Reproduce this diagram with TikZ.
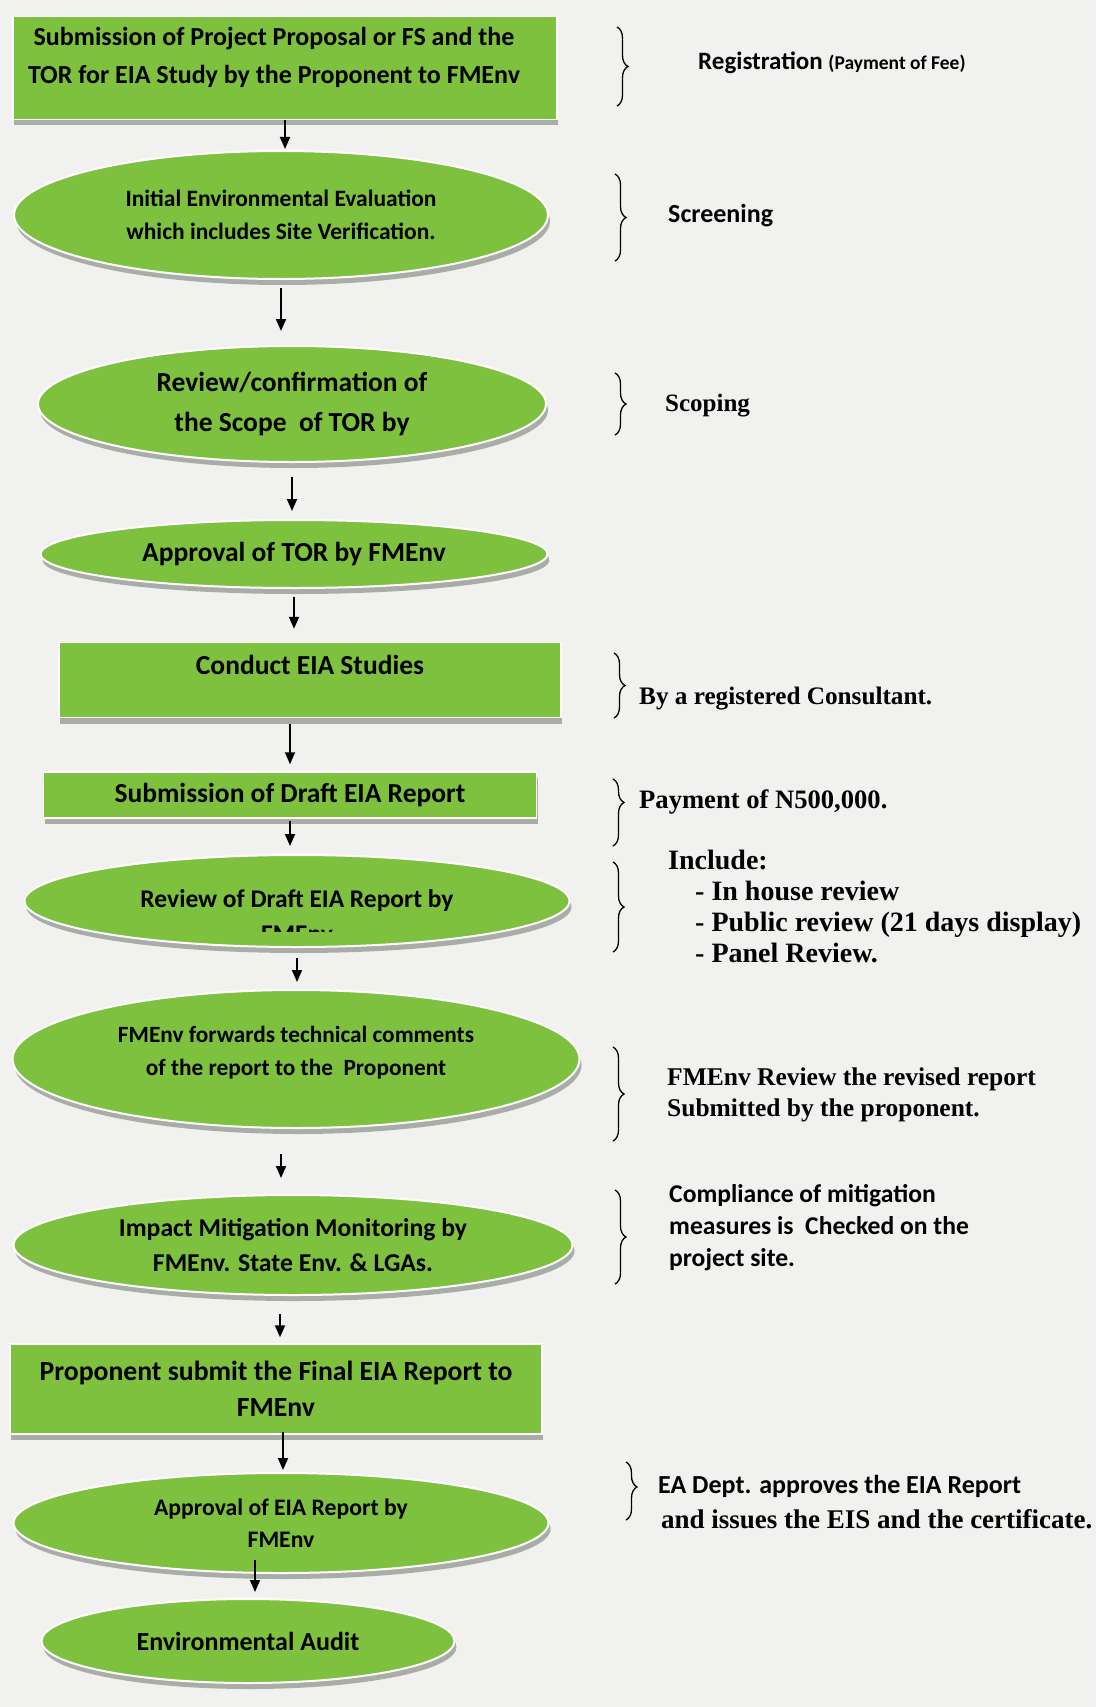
\documentclass[tikz,border=0pt]{standalone}
\usepackage{fontspec}
\setmainfont{Liberation Serif}
\newfontfamily\calib{Carlito}
\usetikzlibrary{shapes.geometric, arrows.meta, positioning, calc, shadows, decorations.pathreplacing}
\definecolor{cLeaf}{RGB}{126,193,62}
\definecolor{cPaper}{RGB}{241,242,239}
\definecolor{cShade}{RGB}{150,158,150}
\newcommand{\fsz}[2]{\calib\bfseries\fontsize{#1}{#2}\selectfont}
\newcommand{\tsz}[2]{\bfseries\fontsize{#1}{#2}\selectfont}
\tikzset{
	stage/.style    ={rectangle, draw=white, line width=1.5pt, fill=cLeaf, align=center, inner sep=0pt, drop shadow={shadow xshift=1pt, shadow yshift=-6pt, fill=cShade, opacity=.8}},
	phase/.style    ={ellipse, draw=white, line width=2pt, fill=cLeaf, align=center, inner sep=0pt, drop shadow={shadow xshift=2pt, shadow yshift=-6pt, fill=cShade, opacity=.8}},
	flowarrow/.style={-{Triangle[length=12pt, width=10pt]}, line width=1.8pt},
	curly/.style    ={decorate, decoration={brace, amplitude=11pt}, line width=1.3pt},
	note/.style     ={anchor=west, align=left, inner sep=0pt},
}

\begin{document}
\begin{tikzpicture}[x=1pt, y=-1pt]
	\fill[cPaper] (0,0) rectangle (1096,1707);
	\useasboundingbox (0,0) rectangle (1096,1707);

	\node[stage, minimum width=544pt, minimum height=103pt, text depth=25pt, font=\fsz{26}{38}] (submit) at (285,68) {Submission of Project Proposal or FS and the\hspace*{22pt}\\TOR for EIA Study by the Proponent to FMEnv\hspace*{22pt}};
	\node[phase, minimum width=534pt, minimum height=128pt, font=\fsz{23.5}{33}] (screen) at (281,215) {Initial Environmental Evaluation\\which includes Site Verification.};
	\node[phase, minimum width=508pt, minimum height=116pt, font=\fsz{27.5}{40}] (scope) at (292,404) {Review/confirmation of\\the Scope~ of TOR by};
	\node[phase, minimum width=507pt, minimum height=68pt, font=\fsz{27.5}{33}] (torok) at (294,554) {Approval of TOR by FMEnv};
	\node[stage, minimum width=502pt, minimum height=75pt, text depth=30pt, font=\fsz{27.5}{33}] (study) at (310,680) {Conduct EIA Studies};
	\node[stage, minimum width=493pt, minimum height=46pt, font=\fsz{27.5}{33}] (draft) at (290,795) {Submission of Draft EIA Report};
	\node[phase, minimum width=545pt, minimum height=92pt, font=\fsz{25.5}{35}] (review) at (297,901) {Review of Draft EIA Report by};
	\begin{scope}
		\clip (60,880) rectangle (540,931);
		\node[font=\fsz{25.5}{35}, inner sep=0pt] (reviewby) at (297,934) {FMEnv};
	\end{scope}
	\node[phase, minimum width=567pt, minimum height=138pt, text depth=17pt, font=\fsz{23.3}{33}] (comments) at (296,1059) {FMEnv forwards technical comments\\of the report to the~ Proponent};
	\node[phase, minimum width=559pt, minimum height=100pt, font=\fsz{25.7}{35}] (monitor) at (293,1245) {Impact Mitigation Monitoring by\\FMEnv. State Env. \& LGAs.};
	\node[stage, minimum width=532pt, minimum height=90pt, font=\fsz{27.7}{36}] (final) at (276,1389) {Proponent submit the Final EIA Report to\\FMEnv};
	\node[phase, minimum width=535pt, minimum height=100pt, font=\fsz{23.7}{32}] (approve) at (281,1523) {Approval of EIA Report by\\FMEnv};
	\node[phase, minimum width=413pt, minimum height=84pt, font=\fsz{26}{33}] (audit) at (248,1641) {Environmental Audit};

	\draw[flowarrow] (submit.south) -- ([yshift=1pt]submit.south |- screen.north);
	\draw[flowarrow] ([yshift=-8pt]screen.south) -- ([yshift=14pt]screen.south |- scope.north);
	\draw[flowarrow] ([yshift=-14pt]scope.south) -- ([yshift=8pt]scope.south |- torok.north);
	\draw[flowarrow] ([yshift=-8pt]torok.south) -- ([yshift=13pt]torok.south |- study.north);
	\draw[flowarrow] ([yshift=-6pt]draft.north |- study.south) -- ([yshift=7pt]draft.north);
	\draw[flowarrow] ([yshift=-2pt]draft.south) -- ([yshift=8pt]draft.south |- review.north);
	\draw[flowarrow] ([yshift=-10pt]review.south) -- ([yshift=7pt]review.south |- comments.north);
	\draw[flowarrow] ([xshift=-15pt, yshift=-25pt]comments.south) -- ([xshift=-15pt, yshift=16pt]comments.south |- monitor.north);
	\draw[flowarrow] ([xshift=4pt, yshift=-18pt]final.north |- monitor.south) -- ([xshift=4pt, yshift=6pt]final.north);
	\draw[flowarrow] ([xshift=2pt, yshift=3pt]approve.north |- final.south) -- ([xshift=2pt, yshift=2pt]approve.north);
	\draw[flowarrow] ([xshift=7pt, yshift=14pt]audit.north |- approve.south) -- ([xshift=7pt, yshift=6pt]audit.north);

	\draw[curly] (617,27) -- (617,106);
	\draw[curly] (615,174) -- (615,261);
	\draw[curly] (615,373) -- (615,435);
	\draw[curly] (614,653) -- (614,718);
	\draw[curly, decoration={aspect=.35}] (613,779) -- (613,846);
	\draw[curly] (613,862) -- (613,952);
	\draw[curly] (613,1047) -- (613,1141);
	\draw[curly] (615,1190) -- (615,1284);
	\draw[curly, decoration={aspect=.43}] (626,1462) -- (626,1520);

	\node[note, font=\fsz{25}{30}] (reg) at (698,63) {Registration {\fontsize{19.5}{20}\selectfont (Payment of Fee)}};
	\node[note, font=\fsz{26}{30}] (scr) at (668,216) {Screening};
	\node[note, font=\tsz{25}{30}] (scp) at (665,406) {Scoping};
	\node[note, font=\tsz{25.2}{30}] (cons) at (639,699) {By a registered Consultant.};
	\node[note, font=\tsz{26.6}{30}] (pay) at (639,802) {Payment of N500,000.};
	\node[note, font=\tsz{28}{31}] (incl) at (668,906) {Include:\\\hspace*{27pt}- In house review\\\hspace*{27pt}- Public review (21 days display)\\\hspace*{27pt}- Panel Review.};
	\node[note, font=\tsz{25.5}{31}] (revised) at (667,1095) {FMEnv Review the revised report\\Submitted by the proponent.};
	\node[note, font=\fsz{25.6}{32}] (comply) at (669,1228) {Compliance of mitigation\\measures is~ Checked on the\\project site.};
	\node[note, font=\tsz{27}{35}] (eis) at (658,1502) {{\fsz{26}{35}EA Dept. approves the EIA Report}\\\hspace*{3pt}and issues the EIS and the certificate.};
\end{tikzpicture}
\end{document}
